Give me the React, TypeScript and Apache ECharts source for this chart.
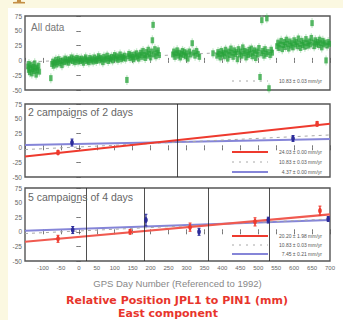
import React, { useEffect, useRef } from "react";
import * as echarts from "echarts";

// ---------- data ----------
const panelTitles = ["All data", "2 campaigns of 2 days", "5 campaigns of 4 days"];
const xAxisName = "GPS Day Number (Referenced to 1992)";
const chartTitle = "Relative Position JPL1 to PIN1 (mm)";
const chartSubtitle = "East component";

const legendAll = ["10.83 ± 0.03 mm/yr"];
const legend2 = ["24.03 ± 0.00 mm/yr", "10.83 ± 0.03 mm/yr", "4.37 ± 0.00 mm/yr"];
const legend5 = ["20.20 ± 1.98 mm/yr", "10.83 ± 0.03 mm/yr", "7.45 ± 0.21 mm/yr"];

// all daily solutions [day, east mm]
const allDataPoints: [number, number][] = [
  [-142, -10], [-140, -16], [-139, -6], [-137, -20], [-135, -13], [-133, -8], [-131, -22], [-129, -15],
  [-127, -11], [-125, -18], [-123, -5], [-121, -14], [-119, -24], [-117, -12], [-115, -17], [-112, -9], [-110, -19],
  [-78, -30], [-75, -6], [-72, -2], [-70, -9], [-67, -4], [-64, 1], [-62, -7], [-59, -3], [-56, 2], [-53, -5],
  [-50, -1], [-47, -8], [-44, 0], [-41, -3], [-38, 3], [-35, -2], [-32, 1], [-29, -4], [-26, 2], [-23, 0],
  [-20, 5], [-17, -1], [-14, 3], [-11, -3], [-8, 1], [-5, 4], [-2, -2], [1, 2], [4, -1], [7, 3], [10, 0],
  [13, -4], [16, 2], [19, 5], [22, -1],
  [25, 1], [28, -3], [31, 4], [34, 0], [37, 2], [40, -2], [43, 5], [46, 1], [49, -1], [52, 3], [55, 7],
  [58, 0], [61, 4], [64, 2], [67, -3], [70, 6], [73, 1], [76, 3], [79, 8], [82, -1], [85, 4], [88, 2],
  [91, 6], [94, 0], [97, 5], [100, 9], [103, 3], [106, 7], [109, 1], [112, 5], [115, 10], [118, 2],
  [121, 6], [124, 4], [127, 8], [130, 3], [134, -33], [137, 7], [140, 11], [143, 4], [146, 9], [149, 6],
  [152, 2], [155, 10], [158, 5], [161, 12], [164, 7], [167, 3], [170, 9],
  [173, 13], [176, 6], [179, 16], [182, 9], [185, 4], [188, 14], [191, 8], [194, 18], [197, 11], [200, 5],
  [203, 15], [205, 34], [207, 60], [209, 10], [212, 19], [215, 7], [218, 13], [221, 17], [224, 9],
  [262, 10], [265, 15], [268, 6], [271, 12], [274, 17], [277, 8], [280, 13], [283, 5], [286, 11], [289, 16],
  [292, 9], [295, 14], [298, 7], [301, 12], [304, 3], [308, 15], [312, 10], [316, 29], [320, 13], [324, 8],
  [328, 16], [332, 11], [336, 6],
  [374, 12],
  [385, 8], [388, 14], [391, 11], [394, 5], [397, 16], [400, 10], [403, 13], [406, 7], [409, 18], [412, 12],
  [415, 3], [418, 15], [421, 9], [424, 20], [427, 13], [430, 6], [433, 17], [436, 11], [439, 14], [442, 2],
  [445, 19], [448, 10], [451, 15], [454, 8], [457, 22], [460, 12], [463, 16], [466, 5], [469, 14], [472, 9],
  [475, 18], [478, 11], [481, 20], [484, 7], [487, 13], [490, 17], [493, 4], [496, 15], [499, 10], [502, 21],
  [505, -28], [508, 12], [510, 68], [513, 16], [516, 8], [519, 19], [522, 11], [524, 71], [527, 14], [530, -47],
  [533, 9], [536, 18], [539, 13],
  [552, 24], [555, 30], [558, 21], [561, 27], [564, 33], [567, 19], [570, 26], [573, 31], [576, 23], [579, 35],
  [582, 28], [585, 20], [588, 32], [591, 25], [594, 29], [597, 22], [600, 34], [603, 27], [606, 31], [609, 24],
  [612, 37], [615, 28], [618, 21], [621, 33], [624, 26], [627, 30], [630, 23], [633, 36], [636, 29], [639, 25],
  [642, 32], [645, 27], [648, 38], [650, 63], [653, 30], [656, 24], [659, 34], [662, 28], [665, 31], [668, 26],
  [671, 35], [674, 29], [677, 22], [680, 33], [683, 27], [686, 30], [689, 0], [692, 25], [695, 31], [698, 28],
];

// trend lines [day, mm] end points
const trendAllData: [number, number][] = [[-150, -3], [700, 22]];
const trend2Red: [number, number][] = [[-150, -15], [700, 41]];
const trend2Blue: [number, number][] = [[-150, 5], [700, 15]];
const trend5Red: [number, number][] = [[-150, -17], [700, 30]];
const trend5Blue: [number, number][] = [[-150, 2], [700, 20]];

// campaign solutions [day, mm, error]
const campaign2Red: [number, number, number][] = [[-58, -8, 3], [664, 41, 4]];
const campaign2Blue: [number, number, number][] = [[-19, 9, 6], [597, 16, 5]];
const campaign5Red: [number, number, number][] = [[-58, -12, 6], [143, 0, 4], [310, 8, 7], [491, 17, 7], [672, 36, 8]];
const campaign5Blue: [number, number, number][] = [[-17, 3, 6], [187, 20, 10], [335, 0, 6], [528, 20, 5], [695, 22, 4]];

// campaign separators (days)
const dividers2 = [275];
const dividers5 = [20, 182, 360, 530];

// ---------- styles ----------
const RED = "#ee3a2e";
const LAV = "#8585d8";
const NAVY = "#2b2b9a";
const GRAY_DASH = "#a8a8a8";
const GREEN = "#27a33a";
const AXIS = "#555";
const LABEL = "#666";

const grids = [
  { left: 25, right: 13, top: 16, height: 74 },
  { left: 25, right: 13, top: 104, height: 73 },
  { left: 25, right: 13, top: 188, height: 73 },
];

function errRender(barColor: string, dotColor: string) {
  return (params: any, api: any) => {
    const x = api.value(0);
    const y = api.value(1);
    const e = api.value(2);
    const t = api.coord([x, y + e]);
    const b = api.coord([x, y - e]);
    const c = api.coord([x, y]);
    return {
      type: "group",
      children: [
        { type: "line", shape: { x1: t[0], y1: t[1], x2: b[0], y2: b[1] }, style: { stroke: barColor, lineWidth: 1.3 } },
        { type: "line", shape: { x1: t[0] - 1.5, y1: t[1], x2: t[0] + 1.5, y2: t[1] }, style: { stroke: barColor, lineWidth: 1 } },
        { type: "line", shape: { x1: b[0] - 1.5, y1: b[1], x2: b[0] + 1.5, y2: b[1] }, style: { stroke: barColor, lineWidth: 1 } },
        { type: "ellipse", shape: { cx: c[0], cy: c[1], rx: 1.8, ry: 3 }, style: { fill: dotColor } },
      ],
    };
  };
}

export default function App() {
  const ref = useRef<HTMLDivElement>(null);

  useEffect(() => {
    if (!ref.current) return;
    const chart = echarts.init(ref.current, undefined, { renderer: "svg" });

    const xAxes: any[] = [];
    const yAxes: any[] = [];
    grids.forEach((_, g) => {
      xAxes.push({
        type: "value", gridIndex: g, min: -150, max: 700, interval: 50, position: "bottom",
        axisLine: { show: false },
        axisTick: { show: true, inside: false, length: 2.5, lineStyle: { color: AXIS, width: 0.8 } },
        axisLabel: g === 2
          ? { show: true, fontSize: 6, color: LABEL, margin: 4, showMinLabel: false, fontFamily: "Liberation Sans" }
          : { show: false },
        splitLine: { show: false },
        name: g === 2 ? xAxisName : "",
        nameLocation: "middle", nameGap: 17,
        nameTextStyle: { fontSize: 9.5, color: "#888", fontFamily: "Liberation Sans" },
      });
      xAxes.push({
        type: "value", gridIndex: g, min: -150, max: 700, interval: 50, position: "top",
        axisLine: { show: false },
        axisTick: { show: true, inside: false, length: 2.5, lineStyle: { color: AXIS, width: 0.8 } },
        axisLabel: { show: false }, splitLine: { show: false },
      });
      yAxes.push({
        type: "value", gridIndex: g, min: -50, max: 75, interval: 25, position: "left",
        axisLine: { show: false },
        axisTick: { show: true, inside: false, length: 2.5, lineStyle: { color: AXIS, width: 0.8 } },
        axisLabel: { fontSize: 6.5, color: LABEL, margin: 3, fontFamily: "Liberation Sans" },
        splitLine: { show: false },
      });
      yAxes.push({
        type: "value", gridIndex: g, min: -50, max: 75, interval: 25, position: "right",
        axisLine: { show: false },
        axisTick: { show: true, inside: false, length: 2, lineStyle: { color: AXIS, width: 0.8 } },
        axisLabel: { show: false }, splitLine: { show: false },
      });
    });

    const trend = (g: number, data: [number, number][], color: string, width: number, dashed: boolean, z = 3) => ({
      type: "line", xAxisIndex: 2 * g, yAxisIndex: 2 * g, data, showSymbol: false, symbol: "none", z,
      lineStyle: { color, width, type: dashed ? [3, 4] : "solid" },
      silent: true,
    });

    const dividerSeries = (g: number, days: number[]) => ({
      type: "line", xAxisIndex: 2 * g, yAxisIndex: 2 * g, data: [], silent: true,
      markLine: {
        symbol: "none", silent: true, label: { show: false },
        lineStyle: { color: "#222", width: 0.8, type: "solid" },
        data: days.map((d) => ({ xAxis: d })),
      },
    });

    const errSeries = (g: number, data: [number, number, number][], bar: string, dot: string) => ({
      type: "custom", xAxisIndex: 2 * g, yAxisIndex: 2 * g, data, z: 5,
      encode: { x: 0, y: 1 }, renderItem: errRender(bar, dot),
    });

    const legendGraphic = (rowsY: number[], texts: string[], styles: any[]) => {
      const out: any[] = [];
      rowsY.forEach((y, i) => {
        out.push({ type: "line", shape: { x1: 232, y1: y, x2: 268, y2: y }, style: styles[i], z: 20 });
        out.push({
          type: "text", x: 322, y, z: 20,
          style: { text: texts[i], fontSize: 5, fill: "#555", align: "right", verticalAlign: "middle", fontFamily: "Liberation Sans" },
        });
      });
      return out;
    };

    const redStyle = { stroke: RED, lineWidth: 2 };
    const dashStyle = { stroke: GRAY_DASH, lineWidth: 1, lineDash: [2, 5] };
    const lavStyle = { stroke: LAV, lineWidth: 2 };

    const option: any = {
      animation: false,
      backgroundColor: "transparent",
      grid: grids.map((g) => ({ ...g, show: true, borderColor: AXIS, borderWidth: 1.4, backgroundColor: "#fff" })),
      xAxis: xAxes,
      yAxis: yAxes,
      series: [
        trend(0, trendAllData, GRAY_DASH, 1, true, 1),
        {
          type: "scatter", xAxisIndex: 0, yAxisIndex: 0, data: allDataPoints, symbol: "rect", symbolSize: [1.3, 10],
          itemStyle: { color: "#8fd49a", opacity: 0.5 }, silent: true, z: 2,
        },
        {
          type: "scatter", xAxisIndex: 0, yAxisIndex: 0, data: allDataPoints, symbol: "rect", symbolSize: [3.5, 6],
          itemStyle: { color: GREEN, opacity: 0.75 }, silent: true, z: 3,
        },
        dividerSeries(1, dividers2),
        trend(1, trend2Blue, LAV, 2, false),
        trend(1, trendAllData, GRAY_DASH, 1, true),
        trend(1, trend2Red, RED, 2, false),
        errSeries(1, campaign2Red, RED, RED),
        errSeries(1, campaign2Blue, NAVY, NAVY),
        dividerSeries(2, dividers5),
        trend(2, trend5Blue, LAV, 2, false),
        trend(2, trendAllData, GRAY_DASH, 1, true),
        trend(2, trend5Red, "#f05a50", 2.2, false),
        errSeries(2, campaign5Red, RED, RED),
        errSeries(2, campaign5Blue, NAVY, NAVY),
      ],
      graphic: [
        {
          type: "polygon", z: 30,
          shape: { points: [[17, 0], [21, 0], [21, 1.8], [25, 2], [25, 3.6], [13, 3.6], [13, 2], [17, 1.8]] },
          style: { fill: "#c48f45" },
        },
        { type: "text", x: 31, y: 27, z: 20, style: { text: panelTitles[0], fontSize: 10, fill: "#777", verticalAlign: "middle", fontFamily: "Liberation Sans" } },
        { type: "text", x: 28, y: 112, z: 20, style: { text: panelTitles[1], fontSize: 10.5, fill: "#666", verticalAlign: "middle", fontFamily: "Liberation Sans" } },
        { type: "text", x: 28, y: 197, z: 20, style: { text: panelTitles[2], fontSize: 10.5, fill: "#666", verticalAlign: "middle", fontFamily: "Liberation Sans" } },
        ...legendGraphic([81], legendAll, [dashStyle]),
        ...legendGraphic([152, 162, 172], legend2, [redStyle, dashStyle, lavStyle]),
        ...legendGraphic([236, 245, 254], legend5, [redStyle, dashStyle, lavStyle]),
        {
          type: "text", x: 177, y: 300.5, z: 20,
          style: { text: chartTitle, fontSize: 11, lineHeight: 11, fontWeight: "bold", fill: "#e8352c", align: "center", verticalAlign: "middle", fontFamily: "DejaVu Sans" },
        },
        {
          type: "text", x: 168, y: 313.5, z: 20,
          style: { text: chartSubtitle, fontSize: 11, lineHeight: 11, fontWeight: "bold", fill: "#e8352c", align: "center", verticalAlign: "middle", fontFamily: "DejaVu Sans" },
        },
      ],
    };

    chart.setOption(option);
    return () => chart.dispose();
  }, []);

  return (
    <div style={{ position: "fixed", left: 0, top: 0, width: 343, height: 320, background: "#fbf8e1", overflow: "hidden" }}>
      <div style={{ position: "absolute", left: 8, top: 8, width: 335, height: 312, background: "#ffffff" }} />
      <div ref={ref} style={{ position: "absolute", left: 0, top: 0, width: 343, height: 320 }} />
    </div>
  );
}
